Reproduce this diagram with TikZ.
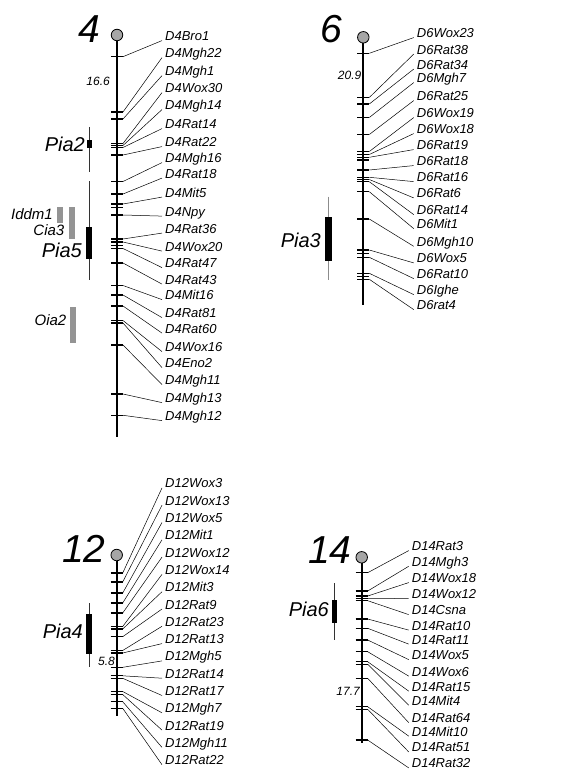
\documentclass[tikz,border=0pt]{standalone}
\usepackage{fontspec}
\setmainfont{Liberation Sans}
\begin{document}
\begin{tikzpicture}[x=1pt,y=-1pt,
  chrom/.style={line width=2pt},
  tickl/.style={line width=1.1pt},
  lead/.style={line width=0.5pt},
  lab/.style={font=\fontsize{13}{13}\selectfont\itshape, inner sep=0pt, anchor=base west},
  num/.style={font=\fontsize{39}{39}\selectfont\itshape, inner sep=0pt, anchor=base},
  qtl/.style={font=\fontsize{20}{20}\selectfont\itshape, inner sep=0pt, anchor=base east},
  qtls/.style={font=\fontsize{15}{15}\selectfont\itshape, inner sep=0pt, anchor=base east},
  dist/.style={font=\fontsize{12}{12}\selectfont\itshape, inner sep=0pt, anchor=base east},
  cen/.style={circle, draw, fill=black!35, line width=0.8pt, minimum size=11.5pt, inner sep=0pt},
  whisk/.style={line width=1pt, black!80},
  whiskg/.style={line width=1pt, black!45},
  bar/.style={fill=black},
  gbar/.style={fill=black!42}]
\useasboundingbox (0,0) rectangle (580,770);

% ---------------- Chromosome 4 ----------------
\node[num] (n4) at (89,43) {4};
\node[cen] (c4) at (117,35) {};
\coordinate (e4) at (117,437);
\draw[chrom] (c4.south) -- (e4);
\foreach \ty/\ly/\txt [count=\i] in {
  56.7/36/D4Bro1, 112/53/D4Mgh22, 119/71/D4Mgh1, 143.5/88/D4Wox30,
  145.5/105/D4Mgh14, 147.5/124/D4Rat14, 155/142/D4Rat22, 181.5/158/D4Mgh16,
  194/173.5/D4Rat18, 204/192.5/D4Mit5, 215/211.5/D4Npy, 239/228.5/D4Rat36,
  242/246.5/D4Wox20, 248.5/263/D4Rat47, 263/279.5/D4Rat43, 285.5/295/D4Mit16,
  295/313/D4Rat81, 306/328.5/D4Rat60, 320.5/347/D4Wox16, 323/363/D4Eno2,
  345/380/D4Mgh11, 394/398/D4Mgh13, 415.3/416/D4Mgh12}{
  \coordinate (t4-\i) at (123,\ty);
  \draw[tickl] ([xshift=-12pt]t4-\i) -- (t4-\i);
  \node[lab] (l4-\i) at (165,\ly+4.6) {\txt};
  \draw[lead] (t4-\i) -- ([xshift=-3pt]l4-\i.base west);
}
\foreach \ty [count=\i] in {207.5,245.5}{
  \coordinate (x4-\i) at (123,\ty);
  \draw[tickl] ([xshift=-12pt]x4-\i) -- (x4-\i);
}
\node[dist] (d4) at (110,85.3) {16.6};
% QTLs chr 4
\draw[whisk] (89,127) -- (89,172);
\fill[bar] (86.5,140) rectangle (91.5,148.5);
\node[qtl] (pia2) at (85,152) {Pia2};
\draw[whisk] (89,181) -- (89,280);
\fill[bar] (86,227) rectangle (92,259);
\node[qtl] (pia5) at (82,257) {Pia5};
\fill[gbar] (56.7,206.7) rectangle (62.7,222.7);
\node[qtls] (iddm1) at (53,219) {Iddm1};
\fill[gbar] (69.3,207) rectangle (75.3,239);
\node[qtls] (cia3) at (64.5,235.5) {Cia3};
\fill[gbar] (70,306.7) rectangle (76,343);
\node[qtls] (oia2) at (66.5,325.5) {Oia2};

% ---------------- Chromosome 6 ----------------
\node[num] (n6) at (331,43) {6};
\node[cen] (c6) at (363.3,37.3) {};
\coordinate (e6) at (363.3,305);
\draw[chrom] (c6.south) -- (e6);
\foreach \ty/\ly/\txt [count=\i] in {
  53.3/33/D6Wox23, 97.5/49.5/D6Rat38, 104/64.5/D6Rat34, 117.5/78/D6Mgh7,
  134.5/96/D6Rat25, 151.5/113/D6Wox19, 154.5/129/D6Wox18, 157.3/145/D6Rat19,
  170/161/D6Rat18, 177.3/177/D6Rat16, 179.5/193.3/D6Rat6, 181.7/210/D6Rat14,
  191.7/224/D6Mit1, 219/241.7/D6Mgh10, 250/258.3/D6Wox5, 257.3/274/D6Rat10,
  273.3/290/D6Ighe, 279.3/305/D6rat4}{
  \coordinate (t6-\i) at (369.3,\ty);
  \draw[tickl] ([xshift=-12pt]t6-\i) -- (t6-\i);
  \node[lab] (l6-\i) at (416.7,\ly+4.6) {\txt};
  \draw[lead] (t6-\i) -- ([xshift=-3pt]l6-\i.base west);
}
\foreach \ty [count=\i] in {160,253.5,276.5}{
  \coordinate (x6-\i) at (369.3,\ty);
  \draw[tickl] ([xshift=-12pt]x6-\i) -- (x6-\i);
}
\node[dist] (d6) at (361.5,79.3) {20.9};
\draw[whiskg] (328.3,196.7) -- (328.3,280);
\fill[bar] (325,216.7) rectangle (331.7,261);
\node[qtl] (pia3) at (321,247) {Pia3};

% ---------------- Chromosome 12 ----------------
\node[num] (n12) at (84,562) {12};
\node[cen] (c12) at (116.7,555) {};
\coordinate (e12) at (116.7,716);
\draw[chrom] (c12.south) -- (e12);
\foreach \ty/\txt [count=\i] in {
  573/D12Wox3, 582/D12Wox13, 593/D12Wox5, 603/D12Mit1, 613/D12Wox12,
  626.5/D12Wox14, 629/D12Mit3, 636.7/D12Rat9, 650.5/D12Rat23, 653/D12Rat13,
  667.3/D12Mgh5, 675.8/D12Rat14, 678.3/D12Rat17, 691.5/D12Mgh7, 694.5/D12Rat19,
  701.7/D12Mgh11, 708.3/D12Rat22}{
  \coordinate (t12-\i) at (122.7,\ty);
  \draw[tickl] ([xshift=-12pt]t12-\i) -- (t12-\i);
  \node[lab] (l12-\i) at (165,{483.3+17.3*(\i-1)+4.6}) {\txt};
  \draw[lead] (t12-\i) -- ([xshift=-3pt]l12-\i.base west);
}
\node[dist] (d12) at (115,665.8) {5.8};
\draw[whisk] (89,603.3) -- (89,666.7);
\fill[bar] (86,614) rectangle (92,654);
\node[qtl] (pia4) at (83,638) {Pia4};

% ---------------- Chromosome 14 ----------------
\node[num] (n14) at (330,563) {14};
\node[cen] (c14) at (361.7,557.3) {};
\coordinate (e14) at (361.7,743);
\draw[chrom] (c14.south) -- (e14);
\foreach \ty/\ly/\txt [count=\i] in {
  572.7/546/D14Rat3, 591/561.7/D14Mgh3, 596/578/D14Wox18, 598.3/594/D14Wox12,
  600.7/610/D14Csna, 619/625.5/D14Rat10, 628.3/639.5/D14Rat11, 640/655/D14Wox5,
  651.7/671.5/D14Wox6, 661.7/686.5/D14Rat15, 664.3/700.5/D14Mit4, 678.3/718/D14Rat64,
  706.7/731.5/D14Mit10, 709.3/747.3/D14Rat51, 740/763.3/D14Rat32}{
  \coordinate (t14-\i) at (367.7,\ty);
  \draw[tickl] ([xshift=-12pt]t14-\i) -- (t14-\i);
  \node[lab] (l14-\i) at (411.7,\ly+4.6) {\txt};
  \draw[lead] (t14-\i) -- ([xshift=-3pt]l14-\i.base west);
}
\node[dist] (d14) at (360,695.8) {17.7};
\draw[whisk] (334.5,583) -- (334.5,640);
\fill[bar] (332,600) rectangle (337,623.3);
\node[qtl] (pia6) at (329,616) {Pia6};
\end{tikzpicture}
\end{document}
